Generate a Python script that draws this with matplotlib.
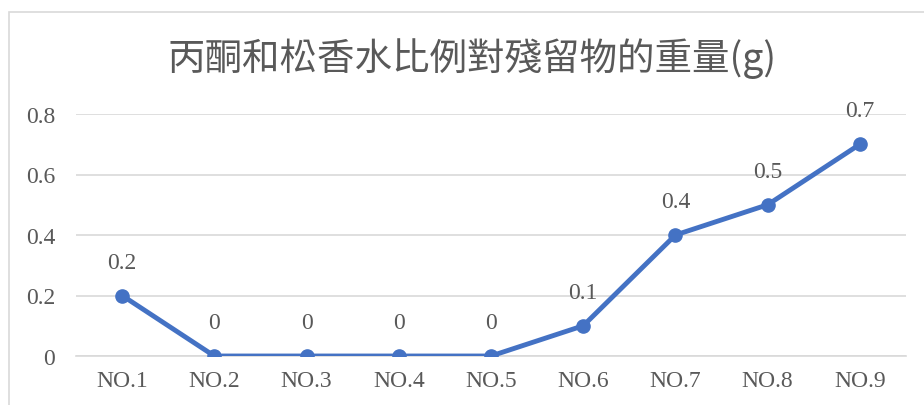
import matplotlib
matplotlib.use("Agg")
import matplotlib.pyplot as plt
from matplotlib.patches import Rectangle

categories = ["NO.1", "NO.2", "NO.3", "NO.4", "NO.5", "NO.6", "NO.7", "NO.8", "NO.9"]
weights = [0.2, 0, 0, 0, 0, 0.1, 0.4, 0.5, 0.7]
y_ticks = [0, 0.2, 0.4, 0.6, 0.8]
y_tick_labels = ["0", "0.2", "0.4", "0.6", "0.8"]
title = "丙酮和松香水比例對殘留物的重量(g)"

text_color = "#595959"
grid_color = "#D9D9D9"
line_color = "#4472C4"
serif = ["Liberation Serif", "DejaVu Serif"]

fig = plt.figure(figsize=(9.24, 4.06), dpi=100)
fig.patch.set_facecolor("white")

# chart frame
fig.patches.append(Rectangle((9 / 924, -0.05), 1.0, 1 - 13 / 406 + 0.05,
                             transform=fig.transFigure, fill=False,
                             edgecolor=grid_color, linewidth=1.2))

ax = fig.add_axes([76 / 924, 49 / 406, 830 / 924, 242 / 406])
x = list(range(len(categories)))
ax.plot(x, weights, color=line_color, linewidth=3.5, marker="o",
        markersize=9.5, solid_capstyle="round", zorder=3)

for xi, v in zip(x, weights):
    ax.annotate(f"{v:g}", (xi, v), xytext=(0, 24), textcoords="offset points",
                ha="center", va="center", fontsize=17, color=text_color,
                family=serif)

ax.set_xlim(-0.5, len(categories) - 0.5)
ax.set_ylim(0, 0.8)
ax.set_yticks(y_ticks)
ax.set_yticklabels(y_tick_labels, family=serif, fontsize=17, color=text_color)
ax.set_xticks(x)
ax.set_xticklabels(categories, family=serif, fontsize=17, color=text_color)
ax.tick_params(axis="y", length=0, pad=15)
ax.tick_params(axis="x", length=0, pad=10)

for s in ["top", "right", "left"]:
    ax.spines[s].set_visible(False)
ax.spines["bottom"].set_color(grid_color)
ax.spines["bottom"].set_linewidth(1.2)
ax.grid(axis="y", color=grid_color, linewidth=1.2)
ax.set_axisbelow(True)

fig.text(472 / 924, 1 - 59 / 406, title, ha="center", va="center",
         fontsize=27, color=text_color, fontweight="light",
         family=["Noto Sans CJK TC", "DejaVu Sans"])

fig.savefig("out.png", dpi=100)
